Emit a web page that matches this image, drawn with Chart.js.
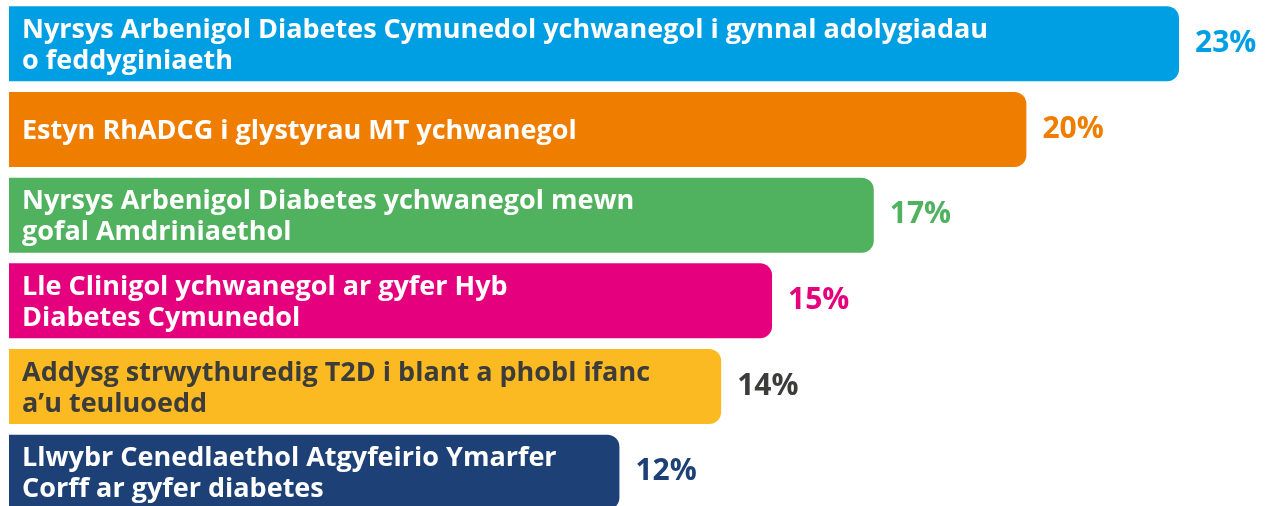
<!DOCTYPE html>
<html>
<head>
<meta charset="utf-8">
<script src="https://cdn.jsdelivr.net/npm/chart.js@4"></script>
<style>
  html, body { margin: 0; padding: 0; background: #fff; overflow: hidden; }
  #wrap { width: 1267px; height: 516px; }
</style>
</head>
<body>
<div id="wrap"><canvas id="chart" width="1267" height="516"></canvas></div>
<script>
// Cynlluniau ychwanegol - canran y cyllid
const categories = [
  ["Nyrsys Arbenigol Diabetes Cymunedol ychwanegol i gynnal adolygiadau", "o feddyginiaeth"],
  ["Estyn RhADCG i glystyrau MT ychwanegol"],
  ["Nyrsys Arbenigol Diabetes ychwanegol mewn", "gofal Amdriniaethol"],
  ["Lle Clinigol ychwanegol ar gyfer Hyb", "Diabetes Cymunedol"],
  ["Addysg strwythuredig T2D i blant a phobl ifanc", "a’u teuluoedd"],
  ["Llwybr Cenedlaethol Atgyfeirio Ymarfer", "Corff ar gyfer diabetes"]
];
const values = [23, 20, 17, 15, 14, 12];
const barColors = ["#009FE3", "#EF7D00", "#50B25E", "#E5007E", "#FBBA22", "#1D4077"];
const labelColors = ["#ffffff", "#ffffff", "#ffffff", "#ffffff", "#3C3C3B", "#ffffff"];
const pctColors = ["#009FE3", "#EF7D00", "#50B25E", "#E5007E", "#3C3C3B", "#1D4077"];

const FONT = "'Open Sans', sans-serif";

// testun y tu mewn i'r barrau a'r canrannau
const barText = {
  id: 'barText',
  afterDatasetsDraw(chart) {
    const ctx = chart.ctx;
    const meta = chart.getDatasetMeta(0);
    ctx.save();
    meta.data.forEach((bar, i) => {
      const lines = categories[i];
      const cy = bar.y;
      ctx.font = "700 27px " + FONT;
      ctx.fillStyle = labelColors[i];
      ctx.textAlign = 'left';
      ctx.textBaseline = 'alphabetic';
      if (lines.length === 1) {
        ctx.fillText(lines[0], 22, cy + 9);
      } else {
        ctx.fillText(lines[0], 22, cy - 6);
        ctx.fillText(lines[1], 22, cy + 25);
      }
      ctx.font = "700 30px " + FONT;
      ctx.fillStyle = pctColors[i];
      ctx.fillText(values[i] + '%', bar.x + 16, cy + 8);
    });
    ctx.restore();
  }
};

new Chart(document.getElementById('chart'), {
  type: 'bar',
  data: {
    labels: categories,
    datasets: [{
      data: values,
      backgroundColor: barColors,
      borderWidth: 0,
      borderSkipped: false,
      borderRadius: { topLeft: 0, bottomLeft: 0, topRight: 12, bottomRight: 12 },
      categoryPercentage: 0.875,
      barPercentage: 1.0
    }]
  },
  options: {
    indexAxis: 'y',
    responsive: false,
    animation: false,
    layout: { padding: { left: 9, right: 0, top: 1, bottom: 1 } },
    plugins: {
      legend: { display: false },
      tooltip: { enabled: false }
    },
    scales: {
      x: { min: 0, max: 24.73, display: false },
      y: { display: false }
    }
  },
  plugins: [barText]
});
</script>
</body>
</html>
